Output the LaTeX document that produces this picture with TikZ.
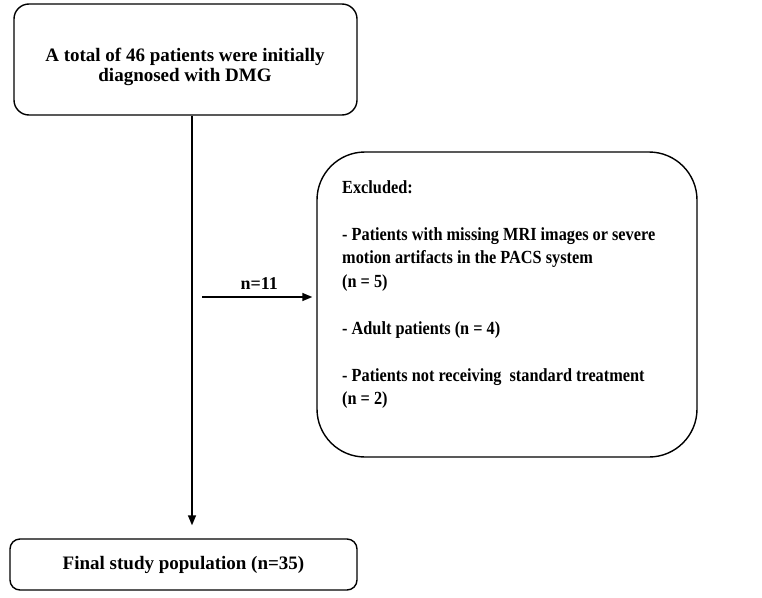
\documentclass[tikz,border=0pt]{standalone}
\usepackage{fontspec}
\setmainfont{Liberation Serif}
\newfontfamily\exclfont{Liberation Serif}[FakeStretch=0.88]
\usetikzlibrary{arrows.meta}
\begin{document}
\begin{tikzpicture}[x=1pt,y=-1pt,
	flowbox/.style={draw, line width=1.4pt, inner sep=0pt},
	flowarrow/.style={line width=1.4pt, -{Triangle[length=10pt,width=8pt]}}]
	\useasboundingbox (0,0) rectangle (762,597);
	% boxes
	\node[flowbox, rounded corners=15pt, minimum width=343pt, minimum height=111pt] (total) at (185.5,59.5) {};
	\node[align=center, font=\bfseries\fontsize{19}{19.5}\selectfont] (totaltext) at (185,67) {A total of 46 patients were initially\\diagnosed with DMG};
	\node[flowbox, rounded corners=48pt, minimum width=380pt, minimum height=305pt] (excl) at (507,304.5) {};
	\node[anchor=north west, align=left, inner sep=0pt, font=\exclfont\bfseries\fontsize{18.5}{23.5}\selectfont] (excltext) at (342,180) {Excluded:\\[23.5pt]
		- Patients with missing MRI images or severe\\
		motion artifacts in the PACS system\\
		(n = 5)\\[23.5pt]
		- Adult patients (n = 4)\\[23.5pt]
		- Patients not receiving\ \ standard treatment\\
		(n = 2)};
	\node[flowbox, rounded corners=10pt, minimum width=347pt, minimum height=51pt, font=\bfseries\fontsize{19}{19}\selectfont] (final) at (183.5,564.5) {Final study population (n=35)};
	% connectors
	\coordinate (split) at (192,297);
	\coordinate (gap) at (202,297);
	\draw[flowarrow, shorten >=13pt] (total.south -| split) -- (final.north -| split);
	\draw[flowarrow, shorten >=4pt] (gap) -- node[above=3pt, font=\bfseries\fontsize{18}{18}\selectfont] (count) {n=11} (excl.west |- gap);
\end{tikzpicture}
\end{document}
